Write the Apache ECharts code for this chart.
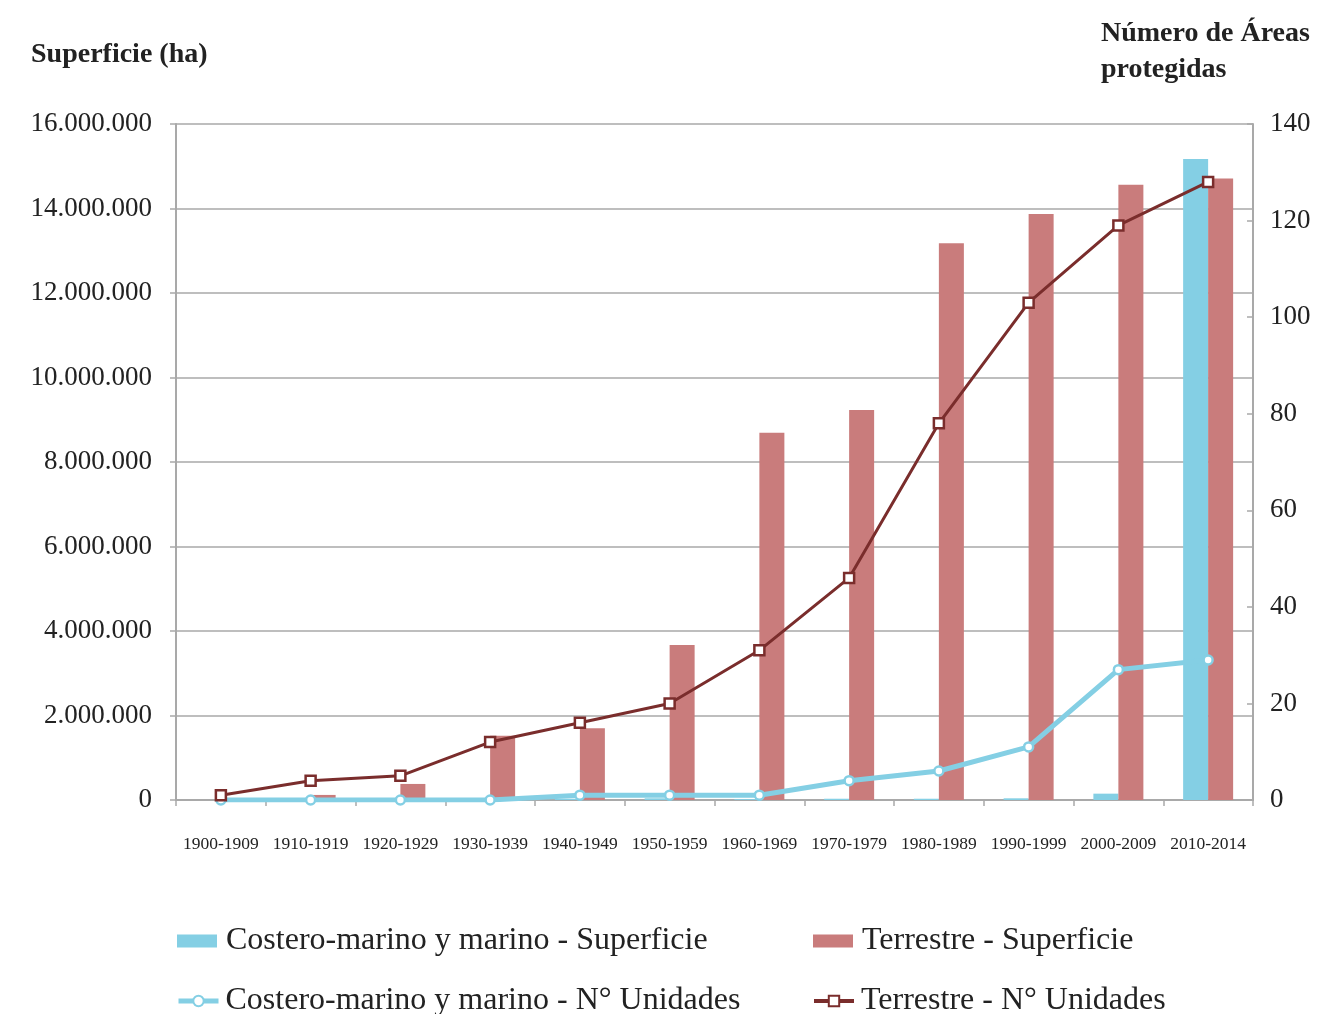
<!DOCTYPE html>
<html>
<head>
<meta charset="utf-8">
<script src="https://cdn.jsdelivr.net/npm/echarts@6/dist/echarts.min.js"></script>
<style>
  html, body { margin: 0; padding: 0; background: #ffffff; }
  #chart { width: 1341px; height: 1014px; }
</style>
</head>
<body>
<div id="chart"></div>
<script>
// Decades shown on the category axis
const decades = ['1900-1909', '1910-1919', '1920-1929', '1930-1939', '1940-1949', '1950-1959',
                 '1960-1969', '1970-1979', '1980-1989', '1990-1999', '2000-2009', '2010-2014'];

// Protected surface (ha) per decade
const marinoSuperficie = [0, 0, 0, 0, 30000, 40000, 20000, 30000, 30000, 40000, 150000, 15170000];
const terrestreSuperficie = [0, 120000, 380000, 1520000, 1700000, 3670000, 8690000, 9230000,
                             13180000, 13870000, 14560000, 14710000];

// Number of protected areas (cumulative count)
const marinoUnidades = [0, 0, 0, 0, 1, 1, 1, 4, 6, 11, 27, 29];
const terrestreUnidades = [1, 4, 5, 12, 16, 20, 31, 46, 78, 103, 119, 128];

// Axis ranges
const superficieMax = 16000000, superficieStep = 2000000;
const unidadesMax = 140, unidadesStep = 20;

const SERIF = '"Liberation Serif", "DejaVu Serif", serif';
const BLUE = '#84CFE4';
const ROSE = '#C97C7C';
const MAROON = '#7A2D2C';
const GRID = '#A9A9A9';

function thousands(v) {
  return String(v).replace(/\B(?=(\d{3})+(?!\d))/g, '.');
}

const names = {
  mSup: 'Costero-marino y marino - Superficie',
  tSup: 'Terrestre - Superficie',
  mUni: 'Costero-marino y marino - N\u00b0 Unidades',
  tUni: 'Terrestre - N\u00b0 Unidades'
};

// One legend block per entry, laid out as a 2 x 2 table
function legendEntry(name, left, top, opts) {
  const o = opts || {};
  return {
    left: left, top: top, orient: 'horizontal',
    itemWidth: 40, itemHeight: 13,
    icon: o.icon,
    lineStyle: o.lineWidth ? { width: o.lineWidth } : undefined,
    textStyle: { fontFamily: SERIF, fontSize: 32, color: '#222', lineHeight: 36,
                 padding: [0, 0, 0, o.textGap || 5] },
    data: [name]
  };
}

const chart = echarts.init(document.getElementById('chart'), null, { renderer: 'canvas' });
chart.setOption({
  animation: false,
  backgroundColor: '#ffffff',
  textStyle: { fontFamily: SERIF },
  title: [
    { text: 'Superficie (ha)', left: 26, top: 36,
      textStyle: { fontFamily: SERIF, fontSize: 28, fontWeight: 'bold', color: '#222' } },
    { text: 'N\u00famero de \u00c1reas\nprotegidas', left: 1096, top: 11,
      textStyle: { fontFamily: SERIF, fontSize: 28, fontWeight: 'bold', color: '#222', lineHeight: 36 } }
  ],
  grid: { left: 176, right: 88, top: 124, bottom: 214, containLabel: false },
  legend: [
    legendEntry(names.mSup, 172, 918, { icon: 'rect', textGap: 4 }),
    legendEntry(names.mUni, 171, 978, { lineWidth: 5, textGap: 2 }),
    legendEntry(names.tSup, 808, 918, { icon: 'rect', textGap: 4 }),
    legendEntry(names.tUni, 807, 978, { lineWidth: 4, textGap: 2 })
  ],
  xAxis: {
    type: 'category',
    data: decades,
    boundaryGap: true,
    axisLine: { lineStyle: { color: GRID, width: 2 } },
    axisTick: { show: true, length: 6, lineStyle: { color: GRID, width: 1.5 } },
    axisLabel: { fontFamily: SERIF, fontSize: 17.5, color: '#222', margin: 35, interval: 0 }
  },
  yAxis: [
    {
      type: 'value', min: 0, max: superficieMax, interval: superficieStep,
      axisLine: { show: true, lineStyle: { color: GRID, width: 2 } },
      axisTick: { show: true, length: 6, lineStyle: { color: GRID, width: 1.5 } },
      splitLine: { show: true, lineStyle: { color: GRID, width: 1.6 } },
      axisLabel: { fontFamily: SERIF, fontSize: 27, color: '#222', margin: 24, formatter: thousands }
    },
    {
      type: 'value', min: 0, max: unidadesMax, interval: unidadesStep, position: 'right',
      axisLine: { show: true, lineStyle: { color: GRID, width: 2 } },
      axisTick: { show: true, inside: true, length: 6, lineStyle: { color: GRID, width: 1.5 } },
      splitLine: { show: false },
      axisLabel: { fontFamily: SERIF, fontSize: 27, color: '#222', margin: 17 }
    }
  ],
  series: [
    { name: names.mSup, type: 'bar', yAxisIndex: 0, data: marinoSuperficie,
      barWidth: 25, barGap: '0%', itemStyle: { color: BLUE } },
    { name: names.tSup, type: 'bar', yAxisIndex: 0, data: terrestreSuperficie,
      barWidth: 25, barGap: '0%', itemStyle: { color: ROSE } },
    { name: names.mUni, type: 'line', yAxisIndex: 1, data: marinoUnidades, z: 3,
      symbol: 'circle', symbolSize: 9, showSymbol: true,
      lineStyle: { color: BLUE, width: 5 },
      itemStyle: { color: '#ffffff', borderColor: BLUE, borderWidth: 2.5 } },
    { name: names.tUni, type: 'line', yAxisIndex: 1, data: terrestreUnidades, z: 4,
      symbol: 'rect', symbolSize: 10, showSymbol: true,
      lineStyle: { color: MAROON, width: 3 },
      itemStyle: { color: '#ffffff', borderColor: MAROON, borderWidth: 2.5 } }
  ]
});
</script>
</body>
</html>
